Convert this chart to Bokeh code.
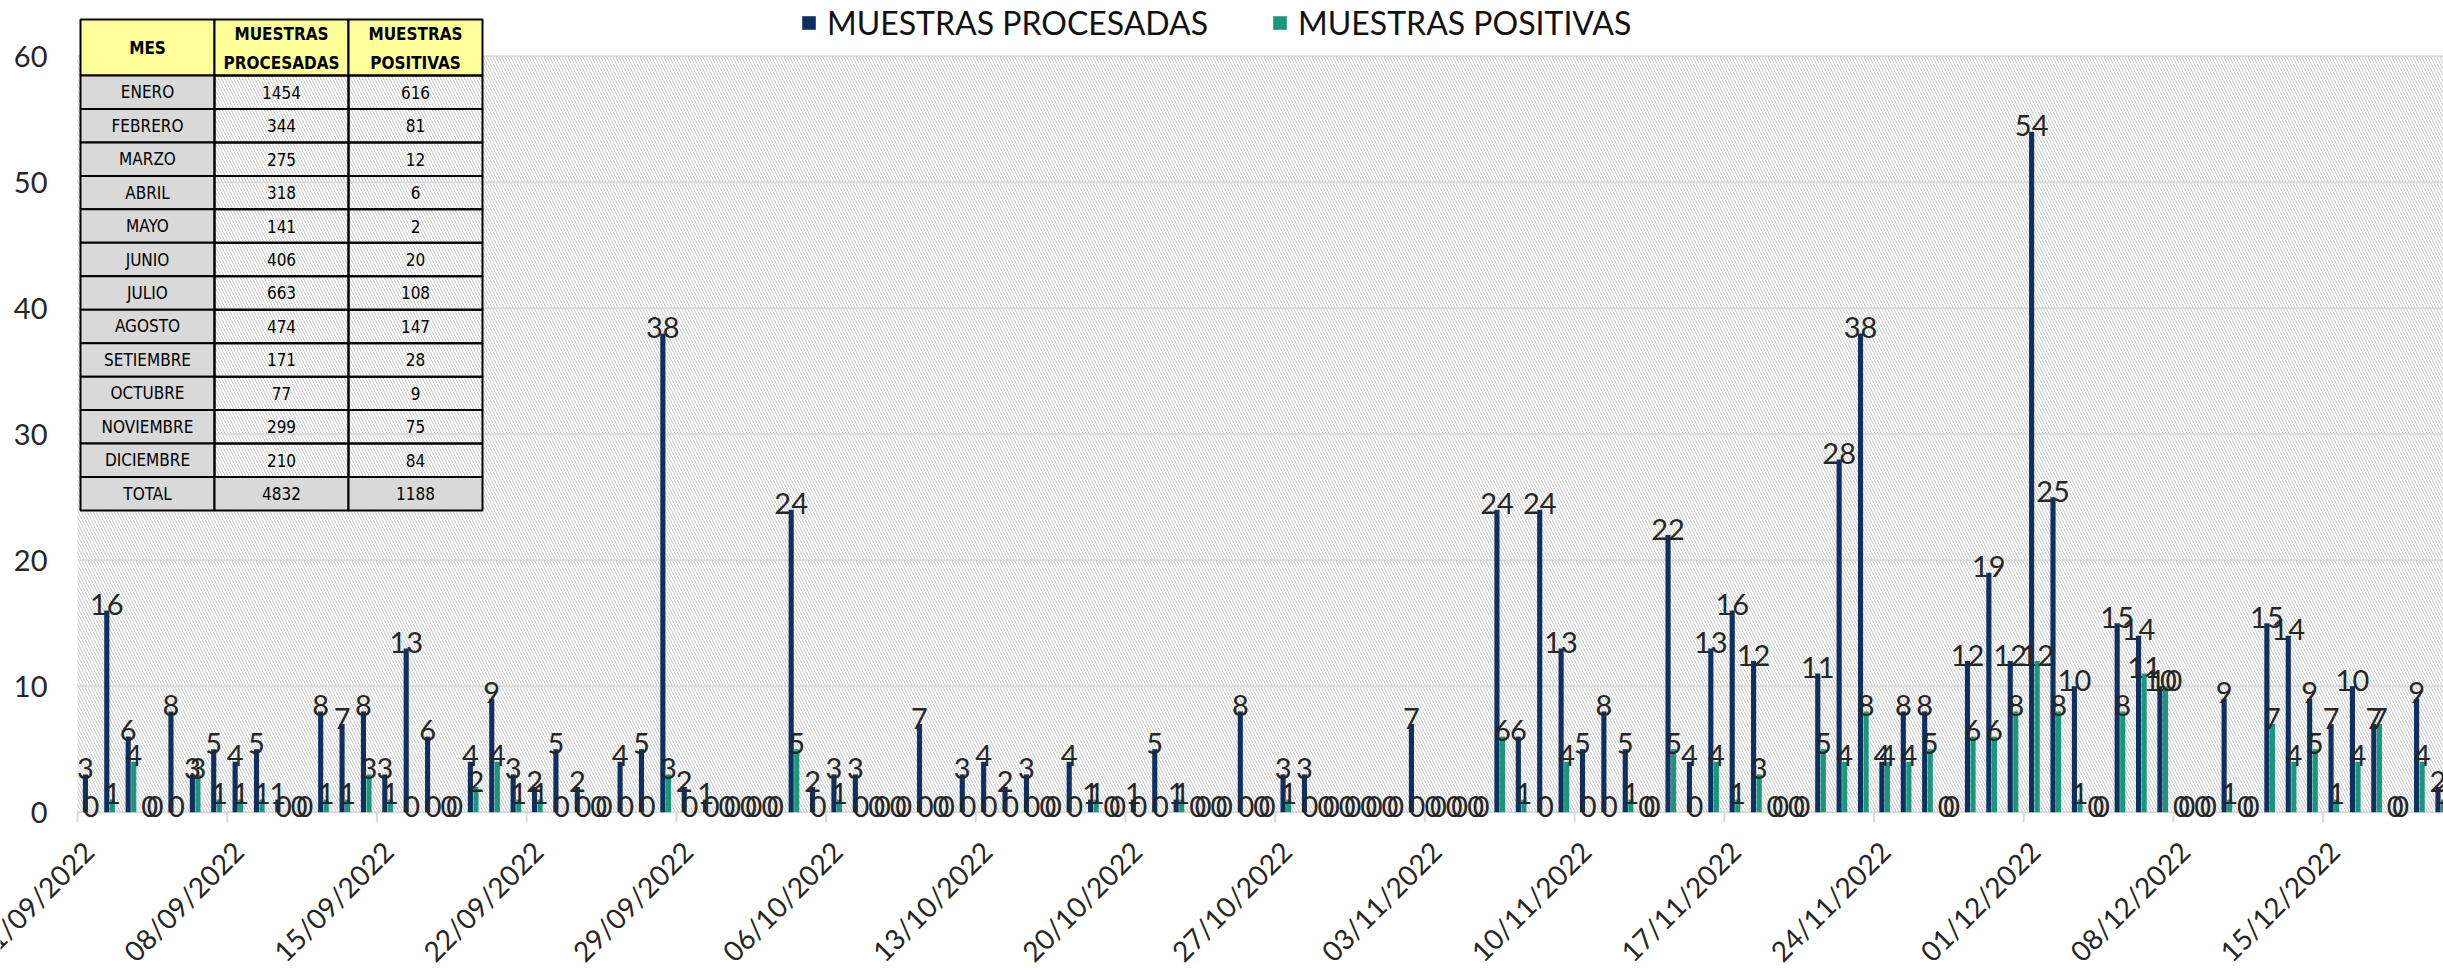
import math
from bokeh.plotting import figure
from bokeh.models import (ColumnDataSource, Range1d, BoxAnnotation, Legend, LegendItem)
from bokeh.transform import dodge
from bokeh.core.properties import value
from bokeh.embed import file_html
from bokeh.resources import INLINE

# ---------------- data ----------------
# daily values from 01/09/2022 (day 0) to 20/12/2022 (day 110)
procesadas_sep = [3, 16, 6, 0, 8, 3, 5, 4, 5, 1, 0, 8, 7, 8, 3, 13, 6, 0, 4, 9,
                  3, 2, 5, 2, 0, 4, 5, 38, 2, 1]
procesadas_oct = [0, 0, 0, 24, 2, 3, 3, 0, 0, 7, 0, 3, 4, 2, 3, 0, 4, 1, 0, 1,
                  5, 1, 0, 0, 8, 0, 3, 3, 0, 0, 0]
procesadas_nov = [0, 7, 0, 0, 0, 24, 6, 24, 13, 5, 8, 5, 0, 22, 4, 13, 16, 12, 0, 0,
                  11, 28, 38, 4, 8, 8, 0, 12, 19, 12]
procesadas_dic = [54, 25, 10, 0, 15, 14, 10, 0, 0, 9, 0, 15, 14, 9, 7, 10, 7, 0, 9, 2]

positivas_sep = [0, 1, 4, 0, 0, 3, 1, 1, 1, 0, 0, 1, 1, 3, 1, 0, 0, 0, 2, 4,
                 1, 1, 0, 0, 0, 0, 0, 3, 0, 0]
positivas_oct = [0, 0, 0, 5, 0, 1, 0, 0, 0, 0, 0, 0, 0, 0, 0, 0, 0, 1, 0, 0,
                 0, 1, 0, 0, 0, 0, 1, 0, 0, 0, 0]
positivas_nov = [0, 0, 0, 0, 0, 6, 1, 0, 4, 0, 0, 1, 0, 5, 0, 4, 1, 3, 0, 0,
                 5, 4, 8, 4, 4, 5, 0, 6, 6, 8]
positivas_dic = [12, 8, 1, 0, 8, 11, 10, 0, 0, 1, 0, 7, 4, 5, 1, 4, 7, 0, 4, 1]

procesadas = procesadas_sep + procesadas_oct + procesadas_nov + procesadas_dic
positivas = positivas_sep + positivas_oct + positivas_nov + positivas_dic

tick_days = [0, 7, 14, 21, 28, 35, 42, 49, 56, 63, 70, 77, 84, 91, 98, 105]
tick_labels = ["01/09/2022", "08/09/2022", "15/09/2022", "22/09/2022", "29/09/2022",
               "06/10/2022", "13/10/2022", "20/10/2022", "27/10/2022", "03/11/2022",
               "10/11/2022", "17/11/2022", "24/11/2022", "01/12/2022", "08/12/2022",
               "15/12/2022"]
y_ticks = [0, 10, 20, 30, 40, 50, 60]
y_tick_labels = ["0", "10", "20", "30", "40", "50", "60"]

legend_labels = ["MUESTRAS PROCESADAS", "MUESTRAS POSITIVAS"]

table_header = ["MES", "MUESTRAS", "PROCESADAS", "MUESTRAS", "POSITIVAS"]
meses = ["ENERO", "FEBRERO", "MARZO", "ABRIL", "MAYO", "JUNIO", "JULIO", "AGOSTO",
         "SETIEMBRE", "OCTUBRE", "NOVIEMBRE", "DICIEMBRE", "TOTAL"]
mes_procesadas = [1454, 344, 275, 318, 141, 406, 663, 474, 171, 77, 299, 210, 4832]
mes_positivas = [616, 81, 12, 6, 2, 20, 108, 147, 28, 9, 75, 84, 1188]

# ---------------- styling / layout ----------------
NAVY = "#0E2F5F"
TEAL = "#17977B"
TXT = "#262626"
GRID = "#D9D9D9"
NUM_NAME = "Lato"
NUM_FONT = value(NUM_NAME)
COND_NAME = "DejaVu Sans Condensed"
COND_FONT = value(COND_NAME)

W, H = 2443, 973
ORIGIN_X = 77        # px of the day-0 boundary
ZERO_Y = 811.7       # px of value 0
PX_DAY = 21.387
PX_UNIT = 12.6
X_START = -ORIGIN_X / PX_DAY
X_END = X_START + W / PX_DAY
Y_START = -(H - ZERO_Y) / PX_UNIT
Y_END = Y_START + H / PX_UNIT
OFF = 0.13
BAR_W = 0.24

p = figure(width=W, height=H, x_range=Range1d(X_START, X_END),
           y_range=Range1d(Y_START, Y_END),
           output_backend="svg", toolbar_location=None,
           min_border_left=0, min_border_right=0, min_border_top=0,
           min_border_bottom=0)
p.axis.visible = False
p.grid.visible = False
p.outline_line_color = None
p.background_fill_color = "white"
p.border_fill_color = "white"

# hatched plot area
p.add_layout(BoxAnnotation(left=0, right=X_END, bottom=0, top=60, fill_alpha=0,
                           line_color=None, hatch_pattern="\\", hatch_color="#CCCCCC",
                           hatch_scale=6, hatch_weight=1, level="image"))

# value axis: grid lines and labels
p.segment(x0=0, x1=X_END, y0=y_ticks, y1=y_ticks, line_color=GRID, line_width=2)
p.text(x=0, y=y_ticks, text=y_tick_labels, x_offset=-30, text_font=NUM_FONT,
       text_font_size="29px", text_color=TXT, text_align="right",
       text_baseline="middle")

# date axis: ticks and rotated labels
p.segment(x0=tick_days, x1=tick_days, y0=0, y1=-10 / PX_UNIT, line_color=GRID,
          line_width=2)
p.text(x=tick_days, y=0, text=tick_labels, angle=math.pi / 4, x_offset=11,
       y_offset=34, text_font=NUM_FONT, text_font_size="28px", text_color=TXT,
       text_align="right", text_baseline="middle")

days = list(range(len(procesadas)))
src = ColumnDataSource(dict(
    x=[d + 0.5 for d in days],
    proc=procesadas, pos=positivas,
    proc_txt=[str(v) for v in procesadas],
    pos_txt=[str(v) for v in positivas],
))

r1 = p.vbar(x=dodge("x", -OFF, range=p.x_range), top="proc", width=BAR_W, source=src,
            fill_color=NAVY, line_color=None)
r2 = p.vbar(x=dodge("x", OFF, range=p.x_range), top="pos", width=BAR_W, source=src,
            fill_color=TEAL, line_color=None)

p.text(x=dodge("x", -OFF, range=p.x_range), y="proc", text="proc_txt", source=src,
       text_font=NUM_FONT, text_font_size="29px", text_color=TXT,
       text_align="center", text_baseline="alphabetic", y_offset=-6)
p.text(x=dodge("x", OFF, range=p.x_range), y="pos", text="pos_txt", source=src,
       text_font=NUM_FONT, text_font_size="29px", text_color=TXT,
       text_align="center", text_baseline="alphabetic", y_offset=-6)

# legend
legend = Legend(items=[LegendItem(label=legend_labels[0], renderers=[r1]),
                       LegendItem(label=legend_labels[1], renderers=[r2])],
                orientation="horizontal", location=(800, 931),
                glyph_width=17, glyph_height=17, label_standoff=10, spacing=63,
                padding=0, margin=0, border_line_color=None, background_fill_alpha=0,
                label_text_font=NUM_NAME, label_text_font_size="32px",
                label_text_color="#111111")
p.add_layout(legend)

# summary table (pixel layout constants mapped into data space)
def dx(px):
    return X_START + px / PX_DAY

def dy(py):
    return Y_END - py / PX_UNIT

COL_PX = [80, 214, 348, 482]
HEAD_PX = (19, 75)
ROW_H = 33.46

cl, cr, ct, cb, cf, ca = [], [], [], [], [], []
for c in range(3):
    cl.append(dx(COL_PX[c])); cr.append(dx(COL_PX[c + 1]))
    ct.append(dy(HEAD_PX[0])); cb.append(dy(HEAD_PX[1]))
    cf.append("#FFFF99"); ca.append(1.0)
for r in range(len(meses)):
    top = HEAD_PX[1] + ROW_H * r
    for c in range(3):
        cl.append(dx(COL_PX[c])); cr.append(dx(COL_PX[c + 1]))
        ct.append(dy(top)); cb.append(dy(top + ROW_H))
        gray = (c == 0) or (r == len(meses) - 1)
        cf.append("#D9D9D9" if gray else "white")
        ca.append(1.0 if gray else 0.0)
p.quad(left=cl, right=cr, top=ct, bottom=cb, fill_color=cf, fill_alpha=ca,
       line_color="black", line_width=2)

colc = [dx((COL_PX[c] + COL_PX[c + 1]) / 2) for c in range(3)]
p.text(x=[colc[0], colc[1], colc[1], colc[2], colc[2]],
       y=[dy(47), dy(33), dy(62), dy(33), dy(62)],
       text=table_header, text_font=COND_FONT, text_font_style="bold",
       text_font_size="17px", text_color="black", text_align="center",
       text_baseline="middle")
tx, ty, tt = [], [], []
for r in range(len(meses)):
    yc = dy(HEAD_PX[1] + ROW_H * (r + 0.5))
    tx += colc; ty += [yc] * 3
    tt += [meses[r], str(mes_procesadas[r]), str(mes_positivas[r])]
p.text(x=tx, y=ty, text=tt, text_font=COND_FONT, text_font_size="17px",
       text_color="black", text_align="center", text_baseline="middle")

open("out.html", "w").write(file_html(p, INLINE))
